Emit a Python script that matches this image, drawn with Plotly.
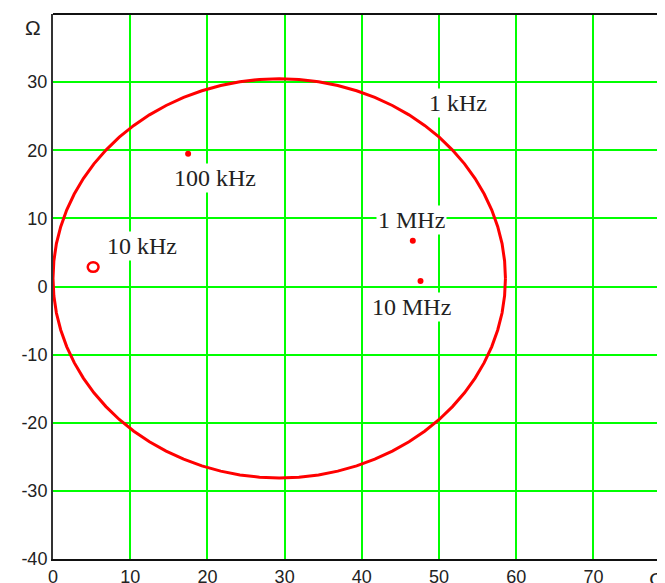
import plotly.graph_objects as go

# Impedance locus (Re Z, Im Z), in ohms
locus_re = [58.60, 58.49, 58.16, 57.60, 56.83, 55.85, 54.67, 53.30, 51.74, 50.02,
            48.13, 46.11, 43.95, 41.68, 39.32, 36.88, 34.39, 31.85, 29.30, 26.75,
            24.21, 21.72, 19.28, 16.92, 14.65, 12.49, 10.47, 8.58, 6.86, 5.30,
            3.93, 2.75, 1.77, 1.00, 0.44, 0.11, 0.00, 0.11, 0.44, 1.00,
            1.77, 2.75, 3.93, 5.30, 6.86, 8.58, 10.47, 12.49, 14.65, 16.92,
            19.28, 21.72, 24.21, 26.75, 29.30, 31.85, 34.39, 36.88, 39.32, 41.68,
            43.95, 46.11, 48.13, 50.02, 51.74, 53.30, 54.67, 55.85, 56.83, 57.60,
            58.16, 58.49, 58.60]
locus_im = [1.20, 3.75, 6.29, 8.78, 11.22, 13.58, 15.85, 18.01, 20.03, 21.92,
            23.64, 25.20, 26.57, 27.75, 28.73, 29.50, 30.06, 30.39, 30.50, 30.39,
            30.06, 29.50, 28.73, 27.75, 26.57, 25.20, 23.64, 21.92, 20.03, 18.01,
            15.85, 13.58, 11.22, 8.78, 6.29, 3.75, 1.20, -1.35, -3.89, -6.38,
            -8.82, -11.18, -13.45, -15.61, -17.63, -19.52, -21.24, -22.80, -24.17, -25.35,
            -26.33, -27.10, -27.66, -27.99, -28.10, -27.99, -27.66, -27.10, -26.33, -25.35,
            -24.17, -22.80, -21.24, -19.52, -17.63, -15.61, -13.45, -11.18, -8.82, -6.38,
            -3.89, -1.35, 1.20]

# small loop near 10 kHz
loop_re = [4.5, 4.7, 5.2, 5.7, 5.9, 5.7, 5.2, 4.7, 4.5]
loop_im = [2.85, 3.35, 3.55, 3.35, 2.85, 2.35, 2.15, 2.35, 2.85]

# marked frequency points
point_re = [17.5, 46.6, 47.6]
point_im = [19.5, 6.7, 0.8]

# labels
label_text = ["1 kHz", "100 kHz", "10 kHz", "1 MHz", "10 MHz"]
label_re = [52.5, 21.0, 11.5, 46.4, 46.4]
label_im = [27.0, 16.0, 5.9, 9.8, -3.0]

x_ticks = [0, 10, 20, 30, 40, 50, 60, 70]
y_ticks = [-40, -30, -20, -10, 0, 10, 20, 30]

fig = go.Figure()
fig.add_trace(go.Scatter(x=locus_re, y=locus_im, mode="lines",
                         line=dict(color="#ff0000", width=3),
                         hoverinfo="skip", showlegend=False))
fig.add_trace(go.Scatter(x=loop_re, y=loop_im, mode="lines",
                         line=dict(color="#ff0000", width=2.5, shape="spline"),
                         hoverinfo="skip", showlegend=False))
fig.add_trace(go.Scatter(x=point_re, y=point_im, mode="markers",
                         marker=dict(color="#ff0000", size=6),
                         hoverinfo="skip", showlegend=False))

for t, xx, yy in zip(label_text, label_re, label_im):
    fig.add_annotation(x=xx, y=yy, text=t, showarrow=False,
                       font=dict(family="Liberation Serif", size=24, color="#222222"),
                       bgcolor="white", borderpad=1)

# top border
fig.add_shape(type="line", xref="paper", yref="paper", x0=0, x1=1, y0=1, y1=1,
              line=dict(color="#111111", width=2))

# unit labels
fig.add_annotation(xref="paper", yref="paper", x=-0.032, y=0.976, text="Ω",
                   showarrow=False, font=dict(family="Liberation Sans", size=21, color="#222222"),
                   xanchor="center", yanchor="middle")
fig.add_annotation(xref="paper", yref="paper", x=0.974, y=-0.012, text="Ω",
                   showarrow=False, font=dict(family="Liberation Sans", size=21, color="#222222"),
                   xanchor="center", yanchor="top")

fig.update_xaxes(range=[0, 80.3], tickvals=x_ticks, ticktext=[str(v) for v in x_ticks],
                 showgrid=True, gridcolor="#00ff00", gridwidth=1.5,
                 zeroline=False, showline=True, linecolor="#111111", linewidth=2,
                 ticks="", automargin=False,
                 tickfont=dict(family="Liberation Sans", size=18, color="#222222"),
                 fixedrange=True)
fig.update_yaxes(range=[-40, 40], tickvals=y_ticks, ticktext=[str(v) for v in y_ticks],
                 showgrid=True, gridcolor="#00ff00", gridwidth=1.5,
                 zeroline=False, showline=True, linecolor="#333333", linewidth=2,
                 ticks="", automargin=False,
                 tickfont=dict(family="Liberation Sans", size=18, color="#222222"),
                 fixedrange=True)

fig.update_layout(width=665, height=583,
                  margin=dict(l=45, r=0, t=6, b=32),
                  paper_bgcolor="white", plot_bgcolor="white")

fig.write_html("out.html")
